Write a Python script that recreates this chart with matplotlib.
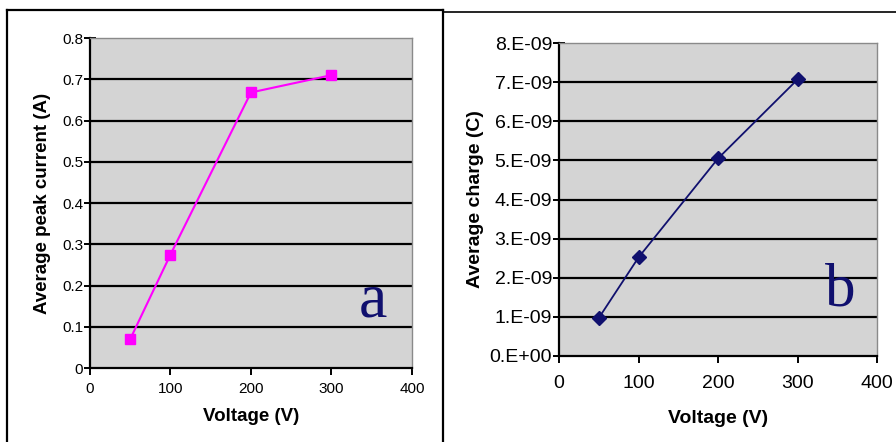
import matplotlib
matplotlib.use('Agg')
import matplotlib.pyplot as plt
from matplotlib.lines import Line2D

plt.rcParams['font.family'] = ['Liberation Sans', 'DejaVu Sans']

# panel a: average peak current vs voltage
voltage = [50, 100, 200, 300]
peak_current = [0.07, 0.275, 0.668, 0.71]

# panel b: average charge vs voltage
charge = [0.97e-9, 2.52e-9, 5.05e-9, 7.07e-9]

x_ticks = [0, 100, 200, 300, 400]
a_ticks = [0, 0.1, 0.2, 0.3, 0.4, 0.5, 0.6, 0.7, 0.8]
a_tick_labels = ['0', '0.1', '0.2', '0.3', '0.4', '0.5', '0.6', '0.7', '0.8']
b_ticks = [i * 1e-9 for i in range(9)]
b_tick_labels = ['0.E+00'] + ['%d.E-09' % i for i in range(1, 9)]

PLOT_BG = '#d4d4d4'
NAVY = '#10106e'


def style_axes(ax, yticks, ylabels, ylim, label_size, xpad):
    ax.set_facecolor(PLOT_BG)
    ax.set_xlim(0, 400)
    ax.set_ylim(*ylim)
    ax.set_xticks(x_ticks)
    ax.set_xticklabels([str(t) for t in x_ticks], fontsize=label_size)
    ax.set_yticks(yticks)
    ax.set_yticklabels(ylabels, fontsize=label_size)
    # black horizontal gridlines, Excel style
    for y in yticks[1:-1]:
        ax.axhline(y, color='black', lw=1.6, zorder=1)
    for side in ['left', 'bottom']:
        ax.spines[side].set_color('black')
        ax.spines[side].set_linewidth(1.6)
    for side in ['top', 'right']:
        ax.spines[side].set_color('#8a8a8a')
        ax.spines[side].set_linewidth(1.0)
    ax.tick_params(axis='x', direction='out', length=5, width=1.4, pad=xpad)
    ax.tick_params(axis='y', direction='inout', length=8, width=1.4, pad=1)


fig = plt.figure(figsize=(8.96, 4.42), dpi=100)

ax_a = fig.add_axes([0.1004, 0.1674, 0.3594, 0.7466])
style_axes(ax_a, a_ticks, a_tick_labels, (0, 0.8), 11, 5)
ax_a.plot(voltage, peak_current, color='#ff00ff', lw=1.5, marker='s',
          markersize=7.5, zorder=3)
ax_a.set_xlabel('Voltage (V)', fontsize=13.5, fontweight='bold', labelpad=9)
ax_a.set_ylabel('Average peak current (A)', fontsize=13.5, fontweight='bold',
                labelpad=8)
ax_a.text(0.88, 0.155, 'a', transform=ax_a.transAxes, fontsize=46,
          family='Liberation Serif', color=NAVY, ha='center', va='baseline',
          zorder=4)

ax_b = fig.add_axes([0.6239, 0.1946, 0.355, 0.708])
style_axes(ax_b, b_ticks, b_tick_labels, (0, 8e-9), 14, 9)
ax_b.plot(voltage, charge, color=NAVY, lw=1.3, marker='D', markersize=7,
          zorder=3)
ax_b.set_xlabel('Voltage (V)', fontsize=14, fontweight='bold', labelpad=13)
ax_b.set_ylabel('Average charge (C)', fontsize=14, fontweight='bold',
                labelpad=4)
ax_b.text(0.885, 0.16, 'b', transform=ax_b.transAxes, fontsize=44,
          family='Liberation Serif', color=NAVY, ha='center', va='baseline',
          zorder=4)

# panel frames
W, H = 896, 442
def px_line(x0, y0, x1, y1, lw=1.6):
    fig.add_artist(Line2D([x0 / W, x1 / W], [1 - y0 / H, 1 - y1 / H],
                          color='black', lw=lw, transform=fig.transFigure))

px_line(7, 10, 443, 10)
px_line(7, 10, 7, 442)
px_line(443, 10, 443, 442)
px_line(443, 12, 896, 12, lw=1.2)

fig.savefig('out.png', dpi=100, facecolor='white')
